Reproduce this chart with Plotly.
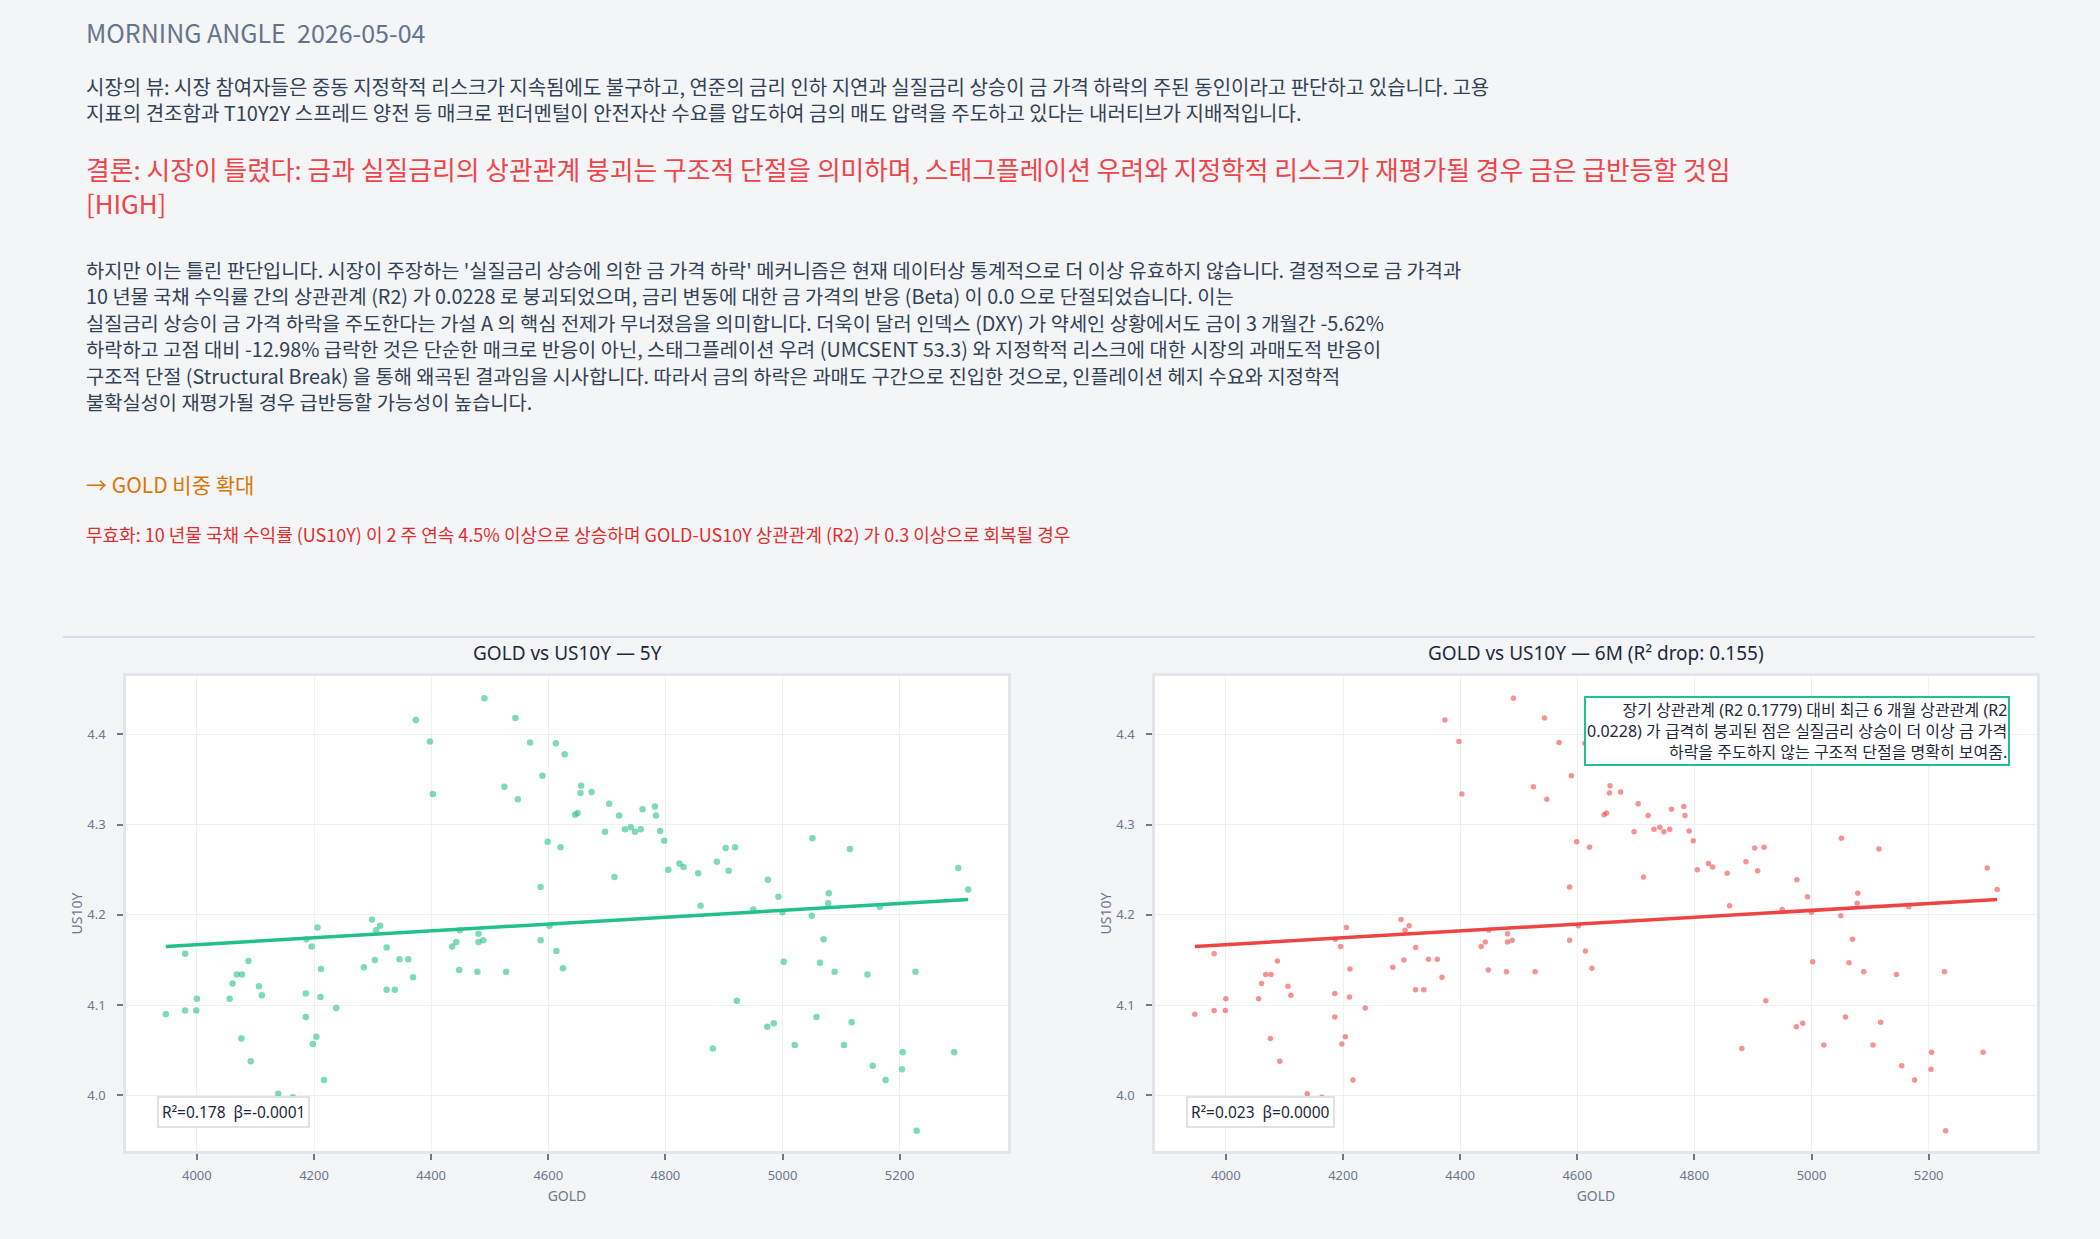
import plotly.graph_objects as go
from plotly.subplots import make_subplots

W, H = 2100, 1239

# scatter data (GOLD price vs US10Y yield)
gold = [4374, 4398, 4403, 4491, 4544, 4569, 4525, 4548, 4590, 4613,
        4599, 4621, 4587, 4299, 4206, 4187, 4196, 4306, 4313, 4324,
        4449, 4481, 4436, 4443, 4481, 4489, 4587, 4602, 4614, 3980,
        3947, 3980, 3999, 4000, 4056, 4061, 4068, 4077, 4088, 4106,
        4111, 4076, 4092, 4186, 4186, 4212, 4211, 4204, 4198, 4217,
        4238, 4139, 4164, 4285, 4304, 4324, 4338, 4346, 4361, 4369,
        4448, 4479, 4528, 4628, 4656, 4655, 4674, 4646, 4650, 4704,
        4721, 4761, 4782, 4784, 4697, 4731, 4741, 4748, 4758, 4791,
        4798, 4713, 4805, 4824, 4831, 4856, 4888, 4903, 4919, 4908,
        4860, 4950, 4975, 4993, 5000, 5051, 5115, 5079, 5078, 5050,
        5070, 5166, 5300, 5317, 4625, 5002, 5064, 5089, 5145, 5227,
        4922, 5058, 4974, 4985, 5118, 4881, 5021, 5105, 5205, 5293,
        5154, 5204, 5176, 5229]
us10y = [4.416, 4.392, 4.334, 4.440, 4.418, 4.391, 4.342, 4.328, 4.354, 4.390,
         4.281, 4.275, 4.231, 4.195, 4.186, 4.173, 4.165, 4.183, 4.188, 4.164,
         4.183, 4.179, 4.165, 4.170, 4.170, 4.172, 4.172, 4.188, 4.160, 4.157,
         4.090, 4.094, 4.094, 4.107, 4.107, 4.124, 4.134, 4.134, 4.149, 4.121,
         4.111, 4.063, 4.038, 4.113, 4.087, 4.140, 4.109, 4.065, 4.057, 4.017,
         4.097, 4.002, 3.998, 4.142, 4.150, 4.117, 4.117, 4.151, 4.151, 4.131,
         4.139, 4.137, 4.137, 4.378, 4.343, 4.335, 4.336, 4.311, 4.313, 4.323,
         4.310, 4.317, 4.320, 4.310, 4.292, 4.295, 4.297, 4.292, 4.295, 4.293,
         4.282, 4.242, 4.250, 4.257, 4.253, 4.246, 4.259, 4.274, 4.275, 4.249,
         4.210, 4.206, 4.239, 4.220, 4.203, 4.285, 4.273, 4.224, 4.213, 4.199,
         4.173, 4.209, 4.252, 4.228, 4.141, 4.148, 4.147, 4.137, 4.134, 4.137,
         4.105, 4.087, 4.076, 4.080, 4.081, 4.052, 4.056, 4.056, 4.048, 4.048,
         4.033, 4.029, 4.017, 3.961]

# regression line end points
fit_gold = [3947, 5317]
fit_us10y = [4.165, 4.217]

x_ticks = [4000, 4200, 4400, 4600, 4800, 5000, 5200]
y_ticks = [4.0, 4.1, 4.2, 4.3, 4.4]

header = "MORNING ANGLE\u00a0\u00a02026-05-04"
view_lines = [
    "시장의 뷰: 시장 참여자들은 중동 지정학적 리스크가 지속됨에도 불구하고, 연준의 금리 인하 지연과 실질금리 상승이 금 가격 하락의 주된 동인이라고 판단하고 있습니다. 고용",
    "지표의 견조함과 T10Y2Y 스프레드 양전 등 매크로 펀더멘털이 안전자산 수요를 압도하여 금의 매도 압력을 주도하고 있다는 내러티브가 지배적입니다.",
]
conclusion_lines = [
    "결론: 시장이 틀렸다: 금과 실질금리의 상관관계 붕괴는 구조적 단절을 의미하며, 스태그플레이션 우려와 지정학적 리스크가 재평가될 경우 금은 급반등할 것임",
    "[HIGH]",
]
body_lines = [
    "하지만 이는 틀린 판단입니다. 시장이 주장하는 '실질금리 상승에 의한 금 가격 하락' 메커니즘은 현재 데이터상 통계적으로 더 이상 유효하지 않습니다. 결정적으로 금 가격과",
    "10 년물 국채 수익률 간의 상관관계 (R2) 가 0.0228 로 붕괴되었으며, 금리 변동에 대한 금 가격의 반응 (Beta) 이 0.0 으로 단절되었습니다. 이는",
    "실질금리 상승이 금 가격 하락을 주도한다는 가설 A 의 핵심 전제가 무너졌음을 의미합니다. 더욱이 달러 인덱스 (DXY) 가 약세인 상황에서도 금이 3 개월간 -5.62%",
    "하락하고 고점 대비 -12.98% 급락한 것은 단순한 매크로 반응이 아닌, 스태그플레이션 우려 (UMCSENT 53.3) 와 지정학적 리스크에 대한 시장의 과매도적 반응이",
    "구조적 단절 (Structural Break) 을 통해 왜곡된 결과임을 시사합니다. 따라서 금의 하락은 과매도 구간으로 진입한 것으로, 인플레이션 헤지 수요와 지정학적",
    "불확실성이 재평가될 경우 급반등할 가능성이 높습니다.",
]
action = "→ GOLD 비중 확대"
invalidation = "무효화: 10 년물 국채 수익률 (US10Y) 이 2 주 연속 4.5% 이상으로 상승하며 GOLD-US10Y 상관관계 (R2) 가 0.3 이상으로 회복될 경우"

panel_titles = ["GOLD vs US10Y — 5Y", "GOLD vs US10Y — 6M (R² drop: 0.155)"]
panel_stats = ["R²=0.178\u00a0\u00a0β=-0.0001", "R²=0.023\u00a0\u00a0β=0.0000"]
note_lines = [
    "장기 상관관계 (R2 0.1779) 대비 최근 6 개월 상관관계 (R2",
    "0.0228) 가 급격히 붕괴된 점은 실질금리 상승이 더 이상 금 가격",
    "하락을 주도하지 않는 구조적 단절을 명확히 보여줌.",
]

KR = "Noto Sans CJK KR"
CHART_FONT = "Noto Sans, Noto Sans CJK KR"
GREEN = "#22c08a"
RED = "#ef4444"
AXIS_GREY = "#6f788a"


def px_x(px):
    return px / W


def px_y(py):
    return 1 - py / H


fig = make_subplots(rows=1, cols=2)

for col, colour, msize in [(1, GREEN, 6.5), (2, RED, 5.5)]:
    fig.add_trace(go.Scatter(x=gold, y=us10y, mode="markers",
                             marker=dict(color=colour, size=msize, opacity=0.58),
                             showlegend=False, hoverinfo="x+y"),
                  row=1, col=col)
    fig.add_trace(go.Scatter(x=fit_gold, y=fit_us10y, mode="lines",
                             line=dict(color=colour, width=3.5),
                             showlegend=False),
                  row=1, col=col)

axis_style = dict(showgrid=True, gridcolor="#eef0f3", gridwidth=1,
                  showline=True, linecolor="#e3e5ea", linewidth=2.5, mirror=True,
                  ticks="outside", ticklen=6, tickwidth=2, tickcolor=AXIS_GREY,
                  tickfont=dict(family=CHART_FONT, size=13, color=AXIS_GREY),
                  zeroline=False)

fig.update_xaxes(axis_style, range=[3879, 5385], tickvals=x_ticks, ticklabelstandoff=5,
                 title=dict(text="GOLD", font=dict(family=CHART_FONT, size=14, color=AXIS_GREY), standoff=8))
fig.update_yaxes(axis_style, range=[3.9385, 4.4646], tickvals=y_ticks, tickformat=".1f",
                 ticklabelstandoff=9,
                 title=dict(text="US10Y", font=dict(family=CHART_FONT, size=14, color=AXIS_GREY), standoff=2))

fig.update_layout(
    width=W, height=H,
    margin=dict(l=0, r=0, t=0, b=0),
    paper_bgcolor="#f4f5f7",
    plot_bgcolor="#ffffff",
    xaxis=dict(domain=[px_x(126), px_x(1008)]),
    xaxis2=dict(domain=[px_x(1155), px_x(2037)]),
    yaxis=dict(domain=[px_y(1151), px_y(676)]),
    yaxis2=dict(domain=[px_y(1151), px_y(676)]),
)

ann = []
ann.append(dict(text=header, x=px_x(84), y=px_y(32),
                font=dict(family=KR, size=25, color="#64748b")))
for i, line in enumerate(view_lines):
    ann.append(dict(text=line, x=px_x(84), y=px_y(86 + i * 26.7),
                    font=dict(family=KR, size=20, color="#334155")))
for i, line in enumerate(conclusion_lines):
    ann.append(dict(text=line, x=px_x(84), y=px_y(168.5 + i * 34),
                    font=dict(family=KR, size=25.8, color="#ef4449")))
for i, line in enumerate(body_lines):
    ann.append(dict(text=line, x=px_x(84), y=px_y(269.5 + i * 26.4),
                    font=dict(family=KR, size=19.8, color="#334155")))
ann.append(dict(text=action, x=px_x(84), y=px_y(484),
                font=dict(family=KR, size=21, color="#d97706")))
ann.append(dict(text=invalidation, x=px_x(84), y=px_y(534),
                font=dict(family=KR, size=18, color="#e02d2d")))

# panel titles
for title, cx in zip(panel_titles, [567, 1596]):
    ann.append(dict(text=title, x=px_x(cx), y=px_y(653), xanchor="center",
                    font=dict(family=CHART_FONT, size=19, color="#1e293b")))

for a in ann:
    a.setdefault("xref", "paper")
    a.setdefault("yref", "paper")
    a.setdefault("xanchor", "left")
    a.setdefault("yanchor", "middle")
    a.setdefault("showarrow", False)

# stats boxes
for i, txt in enumerate(panel_stats):
    ax = "x" if i == 0 else "x2"
    ay = "y" if i == 0 else "y2"
    ann.append(dict(text=txt, xref=ax + " domain", yref=ay + " domain",
                    x=0.035, y=0.048, xanchor="left", yanchor="bottom", showarrow=False,
                    bgcolor="#ffffff", bordercolor="#dfe2e8", borderwidth=2, borderpad=3,
                    font=dict(family=CHART_FONT, size=15.5, color="#1e293b")))

ann.append(dict(text="<br>".join(note_lines), xref="x2 domain", yref="y2 domain",
                x=0.969, y=0.958, xanchor="right", yanchor="top", align="right",
                showarrow=False, bgcolor="#ffffff", bordercolor=GREEN,
                borderwidth=2, borderpad=1,
                font=dict(family=CHART_FONT, size=16, color="#1e293b")))

fig.update_layout(annotations=ann)

# divider above the charts
fig.add_shape(type="line", xref="paper", yref="paper",
              x0=px_x(63), x1=px_x(2035), y0=px_y(637), y1=px_y(637),
              line=dict(color="#cdd6e2", width=1.5))

fig.write_html("out.html", config={"displayModeBar": False},
               post_script="document.body.style.margin='0';document.body.style.overflow='hidden';")
